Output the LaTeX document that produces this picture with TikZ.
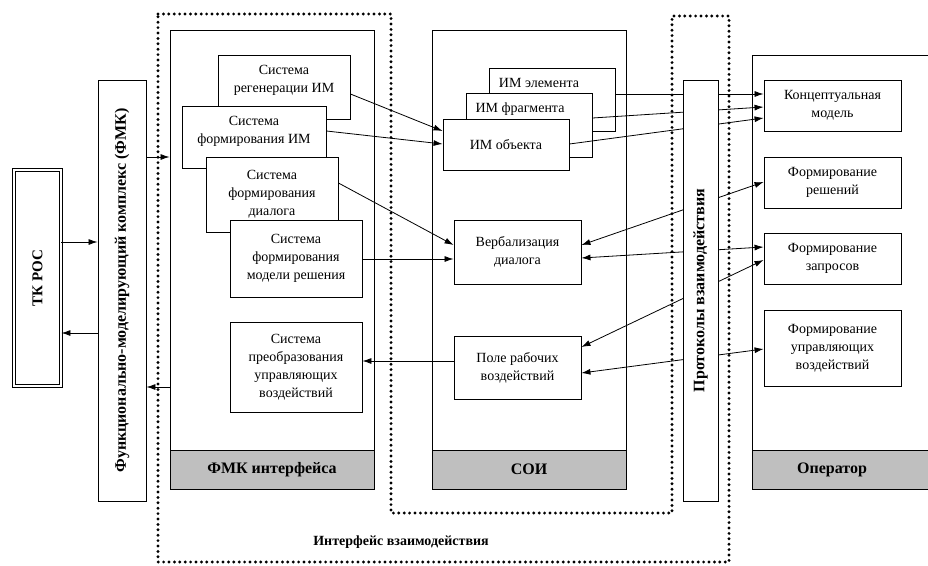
\documentclass[tikz,border=0pt]{standalone}
\usepackage{fontspec}
\setmainfont{Liberation Serif}
\usepackage{graphicx}
\usetikzlibrary{arrows.meta}
\definecolor{bandgray}{RGB}{191,191,191}
\tikzset{
  blk/.style={draw, fill=white, line width=0.9pt, align=center, inner sep=0pt},
  band/.style={draw, fill=bandgray, line width=0.9pt, inner sep=0pt, minimum height=39pt, font=\fontsize{16}{18}\selectfont\bfseries},
  arr/.style={-{Latex[length=9pt,width=6pt]}, line width=0.8pt},
  darr/.style={{Latex[length=9pt,width=6pt]}-{Latex[length=9pt,width=6pt]}, line width=0.8pt},
  dotline/.style={line width=3.2pt, dash pattern=on 0pt off 5.4pt, line cap=round},
}
\begin{document}
\begin{tikzpicture}[x=1pt,y=-1pt,font=\fontsize{14}{18}\selectfont]
\useasboundingbox (0,0) rectangle (928,565);

\node[blk, double, double distance=2pt, minimum width=47pt, minimum height=216pt] (tkros) at (37.5,278) {\rotatebox{90}{\fontsize{15}{18}\selectfont\bfseries ТК РОС}};
\node[blk, minimum width=48pt, minimum height=421pt] (fmk) at (122,290.5) {\rotatebox{90}{\fontsize{16}{18}\selectfont\bfseries Функционально-моделирующий комплекс (ФМК)}};

\node[blk, minimum width=204pt, minimum height=459pt] (fmkif) at (272,259.5) {};
\node[band, minimum width=204pt] (fmkifl) at (272,469.5) {ФМК интерфейса};
\node[blk, minimum width=194pt, minimum height=459pt] (soi) at (529,259.5) {};
\node[band, minimum width=194pt] (soil) at (529,469.5) {СОИ};
\node[blk, minimum width=188pt, minimum height=434pt] (oper) at (846,272) {};
\node[band, minimum width=188pt] (operl) at (846,469.5) {};
\node[band, draw=none, fill=none] at (832,469.5) {Оператор};

\node[blk, minimum width=132pt, minimum height=64pt] (sreg) at (284,87) {};
\node[align=center] at (284,80) {Система\\регенерации ИМ};
\node[blk, minimum width=144pt, minimum height=62pt] (sfim) at (254,137) {};
\node[align=center] at (254,131) {Система\\формирования ИМ};
\node[blk, minimum width=132pt, minimum height=75pt] (sdia) at (272,194.5) {Система\\формирования\\диалога};
\node[blk, minimum width=132pt, minimum height=77pt] (smod) at (296,258.5) {Система\\формирования\\модели решения};
\node[blk, minimum width=132pt, minimum height=90pt] (spre) at (296,367) {Система\\преобразования\\управляющих\\воздействий};

\node[blk, minimum width=126pt, minimum height=63pt] (imel) at (552,99.5) {};
\node at (539,83) {ИМ элемента};
\node[blk, minimum width=126pt, minimum height=64pt] (imfr) at (529,125) {};
\node at (520,109) {ИМ фрагмента};
\node[blk, minimum width=126pt, minimum height=51pt] (imob) at (506,144.5) {ИМ объекта};
\node[blk, minimum width=127pt, minimum height=64pt] (verb) at (517.5,252) {Вербализация\\диалога};
\node[blk, minimum width=127pt, minimum height=63pt] (pole) at (517.5,367.5) {Поле рабочих\\воздействий};

\node[blk, minimum width=137pt, minimum height=51pt] (konc) at (832.5,105.5) {Концептуальная\\модель};
\node[blk, minimum width=137pt, minimum height=51pt] (fres) at (832.5,182.5) {Формирование\\решений};
\node[blk, minimum width=137pt, minimum height=51pt] (fzap) at (832.5,258.5) {Формирование\\запросов};
\node[blk, minimum width=137pt, minimum height=76pt] (fupr) at (832.5,348) {Формирование\\управляющих\\воздействий};

\draw[arr] (tkros.east |- 0,242) -- (fmk.west |- 0,242);
\draw[arr] (fmk.west |- 0,333) -- (tkros.east |- 0,333);
\draw[arr] (fmk.east |- 0,157) -- (fmkif.west |- 0,157);
\draw[arr] (fmkif.west |- 0,387) -- (fmk.east |- 0,387);
\draw[arr] (sreg.east |- 0,94) -- (imob.west |- 0,131);
\draw[arr] (sfim.east |- 0,131) -- (imob.west |- 0,144);
\draw[arr] (sdia.east |- 0,183) -- (verb.west |- 0,245);
\draw[arr] (smod.east |- 0,259) -- (verb.west |- 0,259);
\draw[arr] (pole.west |- 0,361) -- (spre.east |- 0,361);
\draw[arr] (imel.east |- 0,94) -- (konc.west |- 0,94);
\draw[arr] (imfr.east |- 0,118) -- (konc.west |- 0,107);
\draw[arr] (imob.east |- 0,144) -- (konc.west |- 0,118);
\draw[darr] (verb.east |- 0,245) -- (fres.west |- 0,182);
\draw[darr] (verb.east |- 0,258) -- (fzap.west |- 0,247);
\draw[darr] (pole.east |- 0,347) -- (fzap.west |- 0,260);
\draw[darr] (pole.east |- 0,373) -- (fupr.west |- 0,349);

\node[blk, minimum width=35pt, minimum height=421pt] (prot) at (700.5,290.5) {\rotatebox{90}{\fontsize{16}{18}\selectfont\bfseries Протоколы взаимодействия}};

\draw[dotline] (158,14) -- (391,14) -- (391,513) -- (672,513) -- (672,16) -- (729,16) -- (729,562) -- (158,562) -- cycle;
\node[font=\fontsize{14}{18}\selectfont\bfseries] (ivz) at (401,542) {Интерфейс взаимодействия};
\end{tikzpicture}
\end{document}
